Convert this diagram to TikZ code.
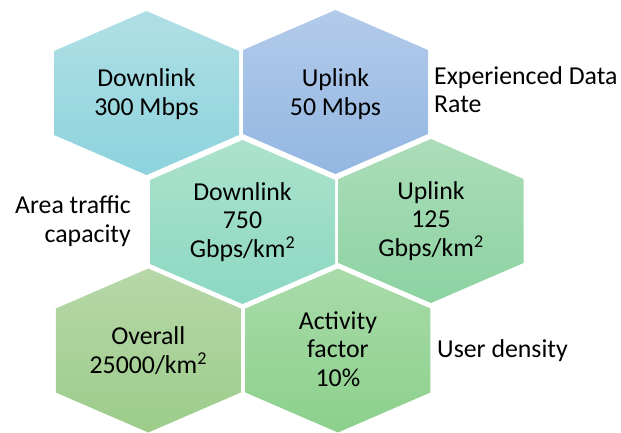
\documentclass[tikz,border=0pt]{standalone}
\usepackage{fontspec}
\setmainfont{Carlito}
\begin{document}
\begin{tikzpicture}[x=1pt,y=-1pt,
  hexpath/.style={insert path={++(0,-82) -- ++(92.5,40) -- ++(0,84) -- ++(-92.5,40) -- ++(-92.5,-40) -- ++(0,-84) -- cycle}},
  hexcell/.style 2 args={top color=#1, bottom color=#2, draw=none},
  celltext/.style={align=center, inner sep=0pt, font=\fontsize{25.8}{28.8}\selectfont, text=black},
  sidetext/.style={inner sep=0pt, font=\fontsize{25.8}{28.8}\selectfont, text=black}]
\useasboundingbox (0,0) rectangle (621,433);
\definecolor{c1t}{HTML}{B0DFE5}\definecolor{c1b}{HTML}{8DD3DD}
\definecolor{c2t}{HTML}{B3CBEA}\definecolor{c2b}{HTML}{93B6E2}
\definecolor{c3t}{HTML}{ACE2CB}\definecolor{c3b}{HTML}{8CD8C3}
\definecolor{c4t}{HTML}{ABDDB8}\definecolor{c4b}{HTML}{8CD3A2}
\definecolor{c5t}{HTML}{B7D7A8}\definecolor{c5b}{HTML}{9CCC8A}
\definecolor{c6t}{HTML}{A9DBAA}\definecolor{c6b}{HTML}{8BD08B}

% hexagon cells
\path[hexcell={c1t}{c1b}] (146.5,93) [hexpath];
\path[hexcell={c2t}{c2b}] (335.5,92) [hexpath];
\path[hexcell={c3t}{c3b}] (242.5,222) [hexpath];
\path[hexcell={c4t}{c4b}] (431,221) [hexpath];
\path[hexcell={c5t}{c5b}] (148.3,350.5) [hexpath];
\path[hexcell={c6t}{c6b}] (337.9,350.5) [hexpath];

% cell contents
\node[celltext] (dl) at (146.5,94) {Downlink\\300 Mbps};
\node[celltext] (ul) at (335.5,94) {Uplink\\50 Mbps};
\node[celltext] (adl) at (242.5,222) {Downlink\\750\\Gbps/km\textsuperscript{2}};
\node[celltext] (aul) at (431,221) {Uplink\\125\\Gbps/km\textsuperscript{2}};
\node[celltext] (ov) at (148.3,350.5) {Overall\\25000/km\textsuperscript{2}};
\node[celltext] (act) at (337.9,349) {Activity\\factor\\10\%};

% row labels (base anchor sits on the last line)
\node[sidetext, anchor=base west, align=left] (edr) at (434,113) {Experienced Data\\Rate};
\node[sidetext, anchor=base east, align=right] (atc) at (131,242) {Area traffic\\capacity};
\node[sidetext, anchor=base west] (ud) at (437,357) {User density};
\end{tikzpicture}
\end{document}
